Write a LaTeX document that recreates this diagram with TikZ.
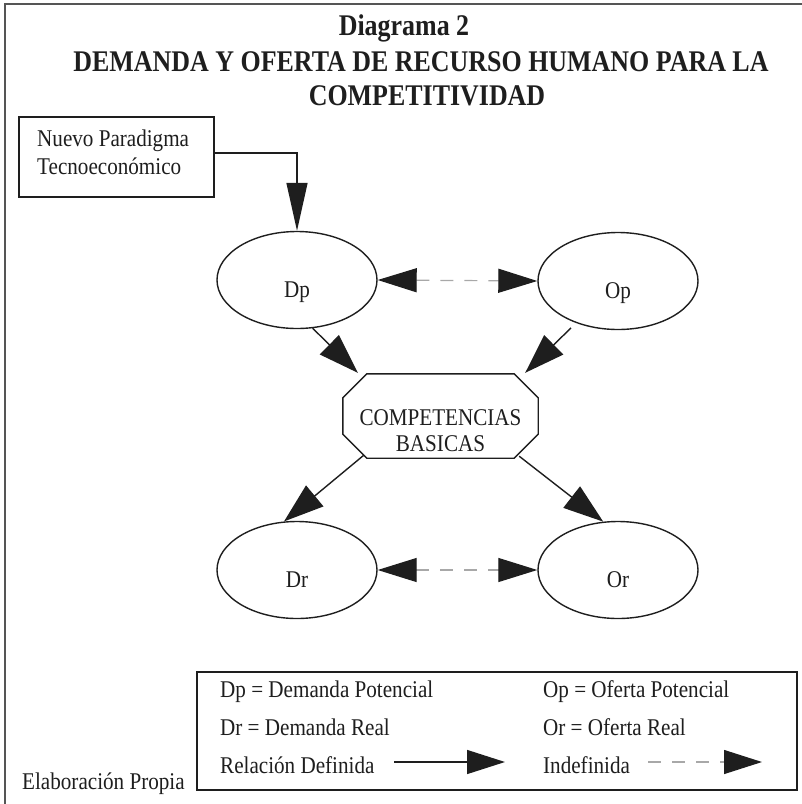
\documentclass[tikz,border=0pt]{standalone}
\usepackage{fontspec}
\setmainfont{Liberation Serif}
\newfontfamily\bodyfont[FakeStretch=0.88]{Liberation Serif}
\newfontfamily\headfont[FakeStretch=0.865]{Liberation Serif}
\usetikzlibrary{arrows.meta,shapes.geometric,calc}

\definecolor{ink}{HTML}{1E1E1E}
\definecolor{dashgray}{HTML}{A8A8A8}
\definecolor{framegray}{HTML}{555555}

\tikzset{
  bodytext/.style={font=\bodyfont\fontsize{24}{26}\selectfont, text=ink, inner sep=0pt},
  headtext/.style={font=\headfont\bfseries\fontsize{30}{32}\selectfont, text=ink, inner sep=0pt},
  oval/.style={ellipse, draw=ink, line width=1.4pt, minimum width=160pt, minimum height=97pt,
    inner sep=0pt, text height=34pt, text depth=0pt, bodytext},
  octoframe/.style={rectangle, minimum width=195pt, minimum height=84pt, inner sep=0pt},
  octoline/.style={draw=ink, line width=1.4pt, line join=miter},
  sourcebox/.style={rectangle, draw=ink, line width=1.4pt, minimum width=195pt, minimum height=80pt, inner sep=0pt},
  legendbox/.style={rectangle, draw=ink, line width=1.6pt, minimum width=600pt, minimum height=118pt, inner sep=0pt},
  defined/.style={draw=ink, line width=1.4pt, -{Triangle[length=40pt,width=27pt]}},
  bigdefined/.style={draw=ink, line width=1.4pt, -{Triangle[length=48pt,width=21pt]}},
  undefined/.style={draw=dashgray, line width=1.2pt, dash pattern=on 13pt off 11pt,
    {Triangle[length=39pt,width=24pt,color=ink]}-{Triangle[length=39pt,width=24pt,color=ink]}},
  undefinedone/.style={draw=dashgray, line width=1.2pt, dash pattern=on 13pt off 11pt,
    -{Triangle[length=38pt,width=24pt,color=ink]}},
  frameline/.style={draw=framegray, line width=1.8pt}
}

\begin{document}
\begin{tikzpicture}[x=1pt,y=-1pt]
\useasboundingbox (0,0) rectangle (802,804);

% outer frame (top and left edges)
\draw[frameline] (802,4) -- (5,4) -- (5,804);

% heading
\node[headtext] (t1) at (404,28) {Diagrama 2};
\node[headtext] (t2) at (421,62) {DEMANDA Y OFERTA DE RECURSO HUMANO PARA LA};
\node[headtext] (t3) at (427,96) {COMPETITIVIDAD};

% driver box
\node[sourcebox] (nuevo) at (116.5,157) {};
\node[bodytext, anchor=west, align=left] (nuevotext) at (37,152) {Nuevo Paradigma\\[2pt]Tecnoeconómico};

% potential demand / supply
\node[oval] (dp) at (297,280) {Dp};
\node[oval] (op) at (618,281) {Op};

% basic competences: octagon cut from the corners of its frame
\node[octoframe] (cb) at (440.5,416) {};
\draw[octoline]
  ($(cb.north west)+(24,0)$) -- ($(cb.north east)+(-24,0)$) -- ($(cb.north east)+(0,24)$)
  -- ($(cb.south east)+(0,-24)$) -- ($(cb.south east)+(-24,0)$) -- ($(cb.south west)+(24,0)$)
  -- ($(cb.south west)+(0,-24)$) -- ($(cb.north west)+(0,24)$) -- cycle;
\node[bodytext, align=center] (cbtext) at (440.5,431) {COMPETENCIAS\\BASICAS};

% real demand / supply
\node[oval] (dr) at (297,570) {Dr};
\node[oval] (or) at (618,570) {Or};

% connectors
\draw[bigdefined] ($(nuevo.east)+(0,-4)$) -| (dp.north);
\draw[undefined] (dp.east) -- (op.west);
\draw[defined] (dp.-72) -- ($(cb.north west)+(15,-1)$);
\draw[defined, shorten <=7pt] (op.-135) -- ($(cb.north east)+(-13,-1)$);
\draw[defined] ($(cb.south west)+(21,-3)$) -- (dr.105);
\draw[defined] ($(cb.south east)+(-19,-2)$) -- (or.107);
\draw[undefined] (dr.east) -- (or.west);

% legend
\node[legendbox] (legend) at (497,731) {};
\node[bodytext, anchor=base west] (l1) at (220,697) {Dp = Demanda Potencial};
\node[bodytext, anchor=base west] (l2) at (543,697) {Op = Oferta Potencial};
\node[bodytext, anchor=base west] (l3) at (220,735) {Dr = Demanda Real};
\node[bodytext, anchor=base west] (l4) at (543,735) {Or = Oferta Real};
\node[bodytext, anchor=base west] (l5) at (220,773) {Relación Definida};
\node[bodytext, anchor=base west] (l6) at (543,773) {Indefinida};
\coordinate (defA) at (394,762);
\coordinate (defB) at (505,762);
\draw[defined, -{Triangle[length=38pt,width=24pt]}] (defA) -- (defB);
\coordinate (indA) at (648,762);
\coordinate (indB) at (762,762);
\draw[undefinedone] (indA) -- (indB);

% source note
\node[bodytext, anchor=base west] (src) at (22,789) {Elaboración Propia};
\end{tikzpicture}
\end{document}
